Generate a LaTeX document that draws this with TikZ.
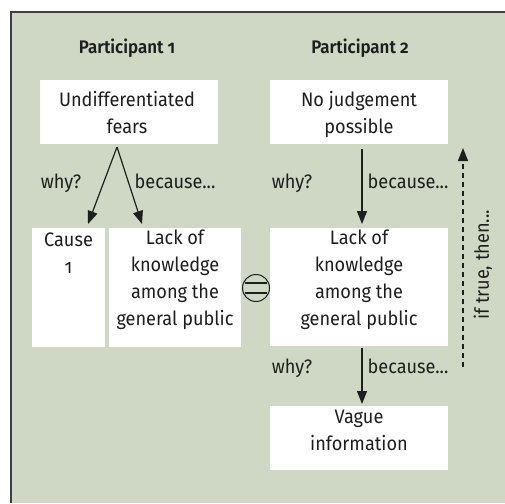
\documentclass[tikz,border=0pt]{standalone}
\usepackage{fontspec}
\setmainfont{Fira Sans}[BoldFont=* SemiBold, Numbers=OldStyle, FakeStretch=0.93]
\usetikzlibrary{arrows.meta,calc}
\definecolor{bg}{RGB}{207,216,196}
\definecolor{ink}{RGB}{30,30,30}
\tikzset{
  box/.style={fill=white, draw=none, inner sep=0pt},
  txt/.style={align=center, text=ink, font=\fontsize{19.5}{26.7}\selectfont, inner sep=0pt},
  lbl/.style={text=ink, font=\fontsize{19.5}{26.7}\selectfont, inner sep=0pt, anchor=base},
  ttl/.style={text=ink, font=\fontsize{18.2}{20}\selectfont\bfseries, inner sep=0pt, anchor=base},
  arr/.style={draw=ink, line width=1.2pt, -{Triangle[length=13pt,width=10pt]}},
  darr/.style={draw=ink, line width=1.2pt, dash pattern=on 5pt off 4pt, -{Triangle[length=13pt,width=10pt]}},
}
\begin{document}
\begin{tikzpicture}[x=1pt,y=-1pt]
\useasboundingbox (0,0) rectangle (505,503);
\fill[bg] (11,12) rectangle (505,503);
\draw[ink!85, line width=1.2pt] (11,503) -- (11,12) -- (505,12);

% titles
\node[ttl] (t1) at (127,53) {Participant 1};
\node[ttl] (t2) at (360,53) {Participant 2};

% boxes left
\node[box, minimum width=178pt, minimum height=64pt] (u1) at (129,112) {};
\node[txt, anchor=base] (u1t) at (127,133) {Undifferentiated\\fears};
\node[box, minimum width=73pt, minimum height=119pt] (c1) at (68.5,287.5) {};
\node[txt, anchor=base] (c1t) at (68.5,273) {Cause\\1};
\node[box, minimum width=132pt, minimum height=119pt] (l1) at (175,287.5) {};
\node[txt, anchor=base] (l1t) at (175,325) {Lack of\\knowledge\\among the\\general public};

% boxes right
\node[box, minimum width=178pt, minimum height=64pt] (n2) at (359,112) {};
\node[txt, anchor=base] (n2t) at (359,133) {No judgement\\possible};
\node[box, minimum width=178pt, minimum height=118pt] (l2) at (359,287) {};
\node[txt, anchor=base] (l2t) at (359,325) {Lack of\\knowledge\\among the\\general public};
\node[box, minimum width=178pt, minimum height=64pt] (v2) at (359,438) {};
\node[txt, anchor=base] (v2t) at (359,450) {Vague\\information};

% arrows left
\coordinate (s1) at (117,147);
\coordinate (e1) at (88,224);
\coordinate (e2) at (142,224);
\draw[arr] (s1) -- (e1);
\draw[arr] (s1) -- (e2);
\node[lbl] (w1) at (61,188) {why?};
\node[lbl] (b1) at (175,188) {because...};

% arrows right
\coordinate (s2) at (362,149);
\coordinate (e3) at (362,224);
\draw[arr] (s2) -- (e3);
\node[lbl] (w2) at (292,188) {why?};
\node[lbl] (b2) at (408,188) {because...};
\coordinate (s3) at (362,348);
\coordinate (e4) at (362,404);
\draw[arr] (s3) -- (e4);
\node[lbl] (w3) at (292,373) {why?};
\node[lbl] (b3) at (408,373) {because...};

% dashed feedback
\coordinate (ds) at (463,367);
\coordinate (de) at (463,148);
\draw[darr] (ds) -- (de);
\node[txt, rotate=90] (it) at (483,265) {if true, then...};

% equality sign
\node[draw=ink, circle, line width=1pt, minimum size=27pt, inner sep=0pt] (eq) at (256,288) {};
\draw[ink, line width=2.4pt] ($(eq.center)+(-11,-5)$) -- ($(eq.center)+(11,-5)$);
\draw[ink, line width=2.4pt] ($(eq.center)+(-11,5)$) -- ($(eq.center)+(11,5)$);
\end{tikzpicture}
\end{document}
